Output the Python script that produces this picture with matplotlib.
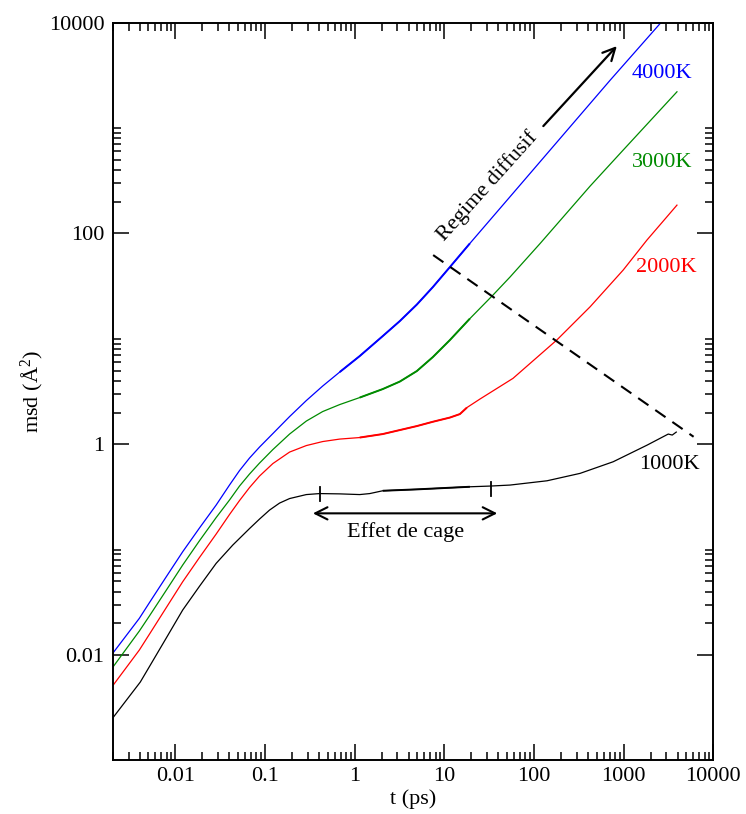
import matplotlib
matplotlib.use('Agg')
import matplotlib.pyplot as plt
import numpy as np

plt.rcParams['font.family'] = ['Liberation Serif', 'DejaVu Serif']
plt.rcParams['mathtext.fontset'] = 'custom'
plt.rcParams['mathtext.rm'] = 'Liberation Serif'
plt.rcParams['mathtext.it'] = 'Liberation Serif:italic'
plt.rcParams['mathtext.default'] = 'regular'

# ---------------- data ----------------
t_4000 = [0.002, 0.00396, 0.005123, 0.007871, 0.01206, 0.01854, 0.02849, 0.04012,
          0.0519, 0.0671, 0.08679, 0.1222, 0.1878, 0.2886, 0.439, 0.68, 1.137,
          2.055, 3.184, 4.929, 7.439, 11.52, 19.27, 53.93, 195.2, 706.8, 3930]
msd_4000 = [0.01038, 0.02229, 0.03134, 0.05495, 0.09552, 0.1603, 0.265, 0.4101,
            0.5626, 0.7398, 0.9406, 1.263, 1.831, 2.598, 3.566, 4.842, 6.868,
            10.63, 14.75, 21.16, 31.0, 48.0, 80.55, 222.9, 796.8, 2848, 14915]

t_3000 = [0.002, 0.00396, 0.005123, 0.007871, 0.01206, 0.01854, 0.02849, 0.04012,
          0.0519, 0.0671, 0.08679, 0.1222, 0.1878, 0.2886, 0.439, 0.68, 1.137,
          2.055, 3.184, 4.929, 7.439, 11.52, 19.27, 34.83, 53.93, 116.7, 422.4,
          987.2, 3930]
msd_3000 = [0.007644, 0.01689, 0.02344, 0.04093, 0.07144, 0.1213, 0.2016, 0.2955,
            0.4012, 0.5217, 0.6631, 0.8906, 1.25, 1.66, 2.043, 2.38, 2.774,
            3.34, 3.934, 4.949, 6.72, 9.741, 15.58, 26.03, 38.58, 80.2, 281.6,
            618.5, 2210]

t_2000 = [0.002, 0.00396, 0.005123, 0.007871, 0.01206, 0.01854, 0.02849, 0.04012,
          0.0519, 0.0671, 0.08679, 0.1222, 0.1878, 0.2886, 0.439, 0.68, 1.137,
          2.055, 3.184, 4.929, 7.439, 11.52, 14.9, 17.84, 24.93, 58.28, 179.3,
          422.4, 987.2, 1816, 3930]
msd_2000 = [0.005112, 0.01115, 0.01572, 0.02798, 0.04958, 0.08414, 0.1406, 0.2153,
            0.2922, 0.3883, 0.4993, 0.656, 0.8433, 0.972, 1.061, 1.12, 1.158,
            1.25, 1.364, 1.488, 1.635, 1.792, 1.934, 2.229, 2.685, 4.22, 9.741,
            20.16, 44.96, 86.56, 185.9]

t_1000 = [0.002, 0.00406, 0.005123, 0.007871, 0.01206, 0.01854, 0.02849, 0.04367,
          0.0671, 0.08679, 0.1123, 0.1452, 0.1878, 0.2886, 0.4064, 0.68, 1.137,
          1.471, 2.055, 4.929, 19.27, 32.24, 53.93, 139.8, 326.6, 763.3, 1830,
          3142, 3483, 3860]
msd_1000 = [0.002526, 0.005543, 0.007745, 0.0144, 0.02673, 0.04485, 0.07413, 0.1106,
            0.1585, 0.1951, 0.2375, 0.2767, 0.3054, 0.3332, 0.3405, 0.3383, 0.3332,
            0.3405, 0.3621, 0.3733, 0.3951, 0.4012, 0.4101, 0.4504, 0.5296, 0.6823,
            0.9826, 1.25, 1.223, 1.305]

series_labels = ['4000K', '3000K', '2000K', '1000K']
series_colors = ['#0000ff', '#008b00', '#ff0000', '#000000']
noisy_window = [(0.68, 19.3), (1.1, 19.3), (1.1, 17.9), (2.0, 19.3)]

x_tick_values = [0.01, 0.1, 1, 10, 100, 1000, 10000]
x_tick_labels = ['0.01', '0.1', '1', '10', '100', '1000', '10000']
y_tick_values = [0.01, 1, 100, 10000]
y_tick_labels = ['0.01', '1', '100', '10000']

# ---------------- figure ----------------
fig = plt.figure(figsize=(7.46, 8.14), dpi=100)
ax = fig.add_axes([0.1511, 0.0658, 0.8051, 0.9063])
ax.set_xscale('log')
ax.set_yscale('log')
ax.set_xlim(0.002, 10000)
ax.set_ylim(0.001, 10000)

curves = [(t_4000, msd_4000), (t_3000, msd_3000), (t_2000, msd_2000), (t_1000, msd_1000)]
for (t, m), c, (w0, w1) in zip(curves, series_colors, noisy_window):
    ax.plot(t, m, color=c, lw=0.9)
    t_arr = np.array(t)
    m_arr = np.array(m)
    sel = (t_arr >= w0) & (t_arr <= w1)
    ax.plot(t_arr[sel], m_arr[sel], color=c, lw=1.4, solid_capstyle='butt')

# series labels
label_pos = [(2692, 3324), (2692, 471), (3000, 47.5), (3250, 0.6417)]
for (lx, ly), lab, c in zip(label_pos, series_labels, series_colors):
    ax.text(lx, ly, lab, color=c, fontsize=16, ha='center', va='center')

# dashed boundary line
ax.plot([7.499, 6026], [62.4, 1.178], color='black', lw=1.5, ls=(0, (6, 4)))

# diffusive regime arrow and text
ax.annotate('', xy=(839, 5998), xytext=(127, 1045),
            arrowprops=dict(arrowstyle='->', lw=1.6, color='black',
                            mutation_scale=22, shrinkA=0, shrinkB=0))
ax.text(30.2, 282.9, 'Regime diffusif', fontsize=16, rotation=48,
        ha='center', va='center', rotation_mode='anchor')

# cage effect
ax.annotate('', xy=(38.9, 0.2211), xytext=(0.342, 0.2211),
            arrowprops=dict(arrowstyle='<->', lw=1.5, color='black',
                            mutation_scale=22, shrinkA=0, shrinkB=0))
ax.text(3.695, 0.1479, 'Effet de cage', fontsize=16, ha='center', va='center')
ax.plot([0.414, 0.414], [0.291, 0.390], color='black', lw=1.3)
ax.plot([32.8, 32.8], [0.3246, 0.441], color='black', lw=1.3)

# ticks
ax.set_xticks(x_tick_values)
ax.set_xticklabels(x_tick_labels)
xminor = [k * 10.0 ** e for e in range(-3, 4) for k in range(2, 10)]
xminor = [v for v in xminor if 0.002 <= v <= 10000]
ax.set_xticks(xminor, minor=True)
ax.set_xticklabels([], minor=True)

ax.set_yticks(y_tick_values)
ax.set_yticklabels(y_tick_labels)
yminor = [k * b for b in (0.01, 1, 100) for k in range(2, 11)]
ax.set_yticks(yminor, minor=True)
ax.set_yticklabels([], minor=True)

ax.tick_params(which='both', direction='in', top=True, right=True, width=1.1,
               labelsize=16)
ax.tick_params(which='major', length=11.5)
ax.tick_params(which='minor', length=5.5)
ax.tick_params(axis='x', which='major', pad=5)
ax.tick_params(axis='y', which='major', pad=6)
for s in ax.spines.values():
    s.set_linewidth(1.4)

ax.set_xlabel('t (ps)', fontsize=16, labelpad=2)
ax.set_ylabel(r'msd ($\mathregular{Å^{2}}$)', fontsize=16, labelpad=2)

fig.savefig('out.png', dpi=100)
